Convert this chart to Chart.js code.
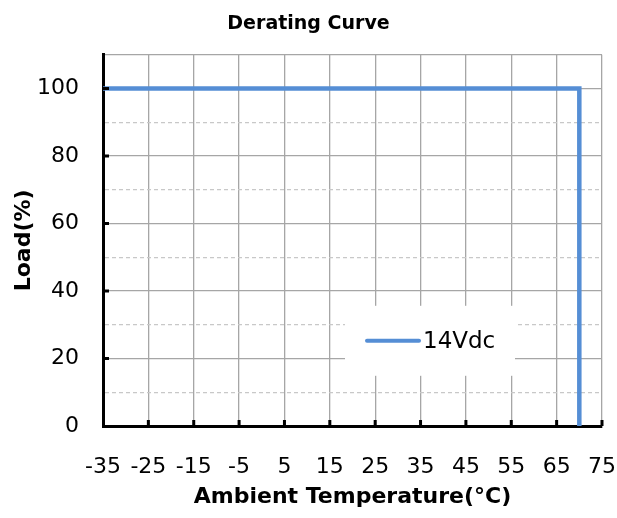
<!DOCTYPE html>
<html>
<head>
<meta charset="utf-8">
<script src="https://cdn.jsdelivr.net/npm/chart.js@4/dist/chart.umd.min.js"></script>
<style>
  body { margin: 0; background: #fff; }
  #wrap { width: 617px; height: 518px; }
</style>
</head>
<body>
<div id="wrap"><canvas id="derating" width="617" height="518"></canvas></div>
<script>
// Derating curve data
const tempValues = [-35, 70, 70];
const loadValues = [100, 100, 0];
const seriesLabel = "14Vdc";
const xTicks = [-35, -25, -15, -5, 5, 15, 25, 35, 45, 55, 65, 75];
const yTicks = [0, 20, 40, 60, 80, 100];

const FONT = "'DejaVu Sans', 'Liberation Sans', Arial, sans-serif";
const LINE_COLOR = "#558ed5";

// inward black tick marks like the original
const innerTicks = {
  id: "innerTicks",
  afterDraw(chart) {
    const { ctx, chartArea, scales } = chart;
    ctx.save();
    ctx.strokeStyle = "#000";
    ctx.lineWidth = 3;
    ctx.beginPath();
    xTicks.slice(1).forEach((v) => {
      const px = scales.x.getPixelForValue(v);
      ctx.moveTo(px, chartArea.bottom);
      ctx.lineTo(px, chartArea.bottom - 6);
    });
    yTicks.slice(1).forEach((v) => {
      const py = scales.y.getPixelForValue(v);
      ctx.moveTo(chartArea.left, py);
      ctx.lineTo(chartArea.left + 6, py);
    });
    ctx.stroke();
    ctx.restore();
  },
};

// legend box sitting inside the plot
const innerLegend = {
  id: "innerLegend",
  afterDraw(chart) {
    const { ctx, chartArea } = chart;
    const ds = chart.data.datasets[0];
    const bx = chartArea.left + 242;
    const by = chartArea.top + 251;
    ctx.save();
    ctx.fillStyle = "#fff";
    ctx.fillRect(bx, by, 170, 70);
    ctx.strokeStyle = ds.borderColor;
    ctx.lineWidth = 4;
    ctx.lineCap = "round";
    ctx.beginPath();
    ctx.moveTo(bx + 22, by + 35);
    ctx.lineTo(bx + 74, by + 35);
    ctx.stroke();
    ctx.fillStyle = "#000";
    ctx.font = "23px " + FONT;
    ctx.textBaseline = "middle";
    ctx.fillText(ds.label, bx + 78, by + 36);
    ctx.restore();
  },
};

new Chart(document.getElementById("derating"), {
  type: "scatter",
  data: {
    datasets: [
      {
        label: seriesLabel,
        data: tempValues.map((t, i) => ({ x: t, y: loadValues[i] })),
        showLine: true,
        borderColor: LINE_COLOR,
        borderWidth: 4.5,
        pointRadius: 0,
        fill: false,
        clip: false,
      },
    ],
  },
  options: {
    responsive: false,
    animation: false,
    layout: { padding: { left: 0, right: 0, top: 0, bottom: 0 } },
    plugins: {
      legend: { display: false },
      tooltip: { enabled: false },
      title: {
        display: true,
        text: "Derating Curve",
        color: "#000",
        font: { family: FONT, size: 19, weight: "bold" },
        padding: { top: 13, bottom: 19 },
      },
    },
    scales: {
      x: {
        type: "linear",
        min: -35,
        max: 75,
        afterFit: (scale) => {
          scale.height = 92;
          scale.paddingLeft = 0;
          scale.paddingRight = 15;
        },
        afterBuildTicks: (scale) => { scale.ticks = xTicks.map((v) => ({ value: v })); },
        ticks: {
          color: "#000",
          font: { family: FONT, size: 22 },
          padding: 28,
          autoSkip: false,
          maxRotation: 0,
        },
        grid: { color: "#a6a6a6", lineWidth: 1.3, drawTicks: false },
        border: { color: "#000", width: 3 },
        title: {
          display: true,
          text: "Ambient Temperature(°C)",
          color: "#000",
          font: { family: FONT, size: 22, weight: "bold" },
          padding: { top: 0, bottom: 8 },
        },
      },
      y: {
        min: 0,
        max: 110,
        afterFit: (scale) => { scale.width = 103; },
        ticks: {
          stepSize: 10,
          color: "#000",
          font: { family: FONT, size: 22 },
          padding: 24,
          callback: (v) => (yTicks.includes(v) ? v : ""),
        },
        grid: {
          drawTicks: false,
          lineWidth: 1.3,
          color: (ctx) =>
            ctx.tick && !yTicks.includes(ctx.tick.value) && ctx.tick.value !== 110 ? "#c8c8c8" : "#a6a6a6",
        },
        border: {
          color: "#000",
          width: 3,
          dash: (ctx) =>
            ctx.tick && !yTicks.includes(ctx.tick.value) && ctx.tick.value !== 110 ? [4, 3] : [],
        },
        title: {
          display: true,
          text: "Load(%)",
          color: "#000",
          font: { family: FONT, size: 22, weight: "bold" },
          padding: { top: 11, bottom: 0 },
        },
      },
    },
  },
  plugins: [innerTicks, innerLegend],
});
</script>
</body>
</html>
